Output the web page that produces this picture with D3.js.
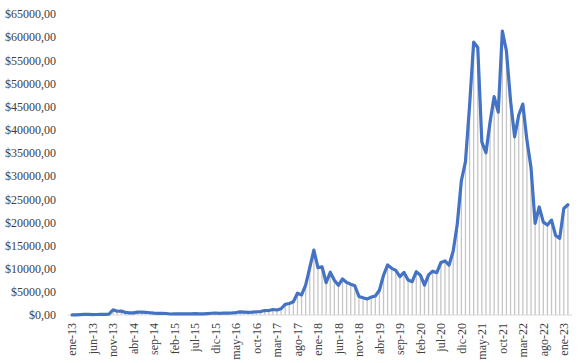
<!DOCTYPE html>
<html>
<head>
<meta charset="utf-8">
<script src="https://cdn.jsdelivr.net/npm/d3@7"></script>
<style>
  body { margin: 0; background: #fff; }
  text { font-family: "Liberation Serif", "Times New Roman", serif; fill: #404040; }
</style>
</head>
<body>
<div id="chart-container"></div>
<script>
// month names and years used for the categories
const monthNames = ["ene","feb","mar","abr","may","jun","jul","ago","sep","oct","nov","dic"];
const years = ["13","14","15","16","17","18","19","20","21","22","23"];

// monthly price values, ene-13 .. feb-23
const prices = [
  20, 33, 93, 139, 129, 97, 106, 141, 141, 204, 1130, 805,
  829, 573, 458, 448, 628, 641, 586, 478, 387, 338, 378, 320,
  218, 254, 244, 236, 230, 263, 284, 230, 236, 314, 377, 430,
  369, 437, 416, 448, 531, 673, 624, 575, 609, 698, 742, 964,
  970, 1190, 1080, 1348, 2286, 2480, 2875, 4703, 4338, 6468, 10233, 14000,
  10222, 10397, 6973, 9240, 7495, 6404, 7780, 7037, 6625, 6318, 4017, 3743,
  3457, 3854, 4105, 5351, 8574, 10817, 10085, 9630, 8294, 9199, 7569, 7193,
  9350, 8599, 6438, 8658, 9461, 9137, 11323, 11680, 10784, 13781, 19625, 28990,
  33114, 45137, 58918, 57750, 37332, 35041, 41626, 47166, 43791, 61318, 57005, 46306,
  38483, 43194, 45539, 37714, 31792, 19785, 23337, 20050, 19432, 20495, 17168, 16548,
  23000, 23800
];

const months = prices.map((_, i) => monthNames[i % 12] + "-" + years[Math.floor(i / 12)]);
const tickLabels = months.filter((_, i) => i % 5 === 0);
const yTicks = d3.range(0, 65001, 5000);

const width = 579, height = 363;
const margin = {top: 14, right: 7, bottom: 48, left: 68};

const svg = d3.select("#chart-container")
  .append("svg")
  .attr("width", width)
  .attr("height", height);

const x = d3.scaleBand()
  .domain(months)
  .range([margin.left, width - margin.right])
  .paddingInner(0)
  .paddingOuter(0.5);

const y = d3.scaleLinear()
  .domain([0, 65000])
  .range([height - margin.bottom, margin.top]);

// bars (thin gray columns)
svg.append("g")
  .selectAll("rect")
  .data(prices)
  .join("rect")
    .attr("x", (d, i) => x(months[i]) + x.bandwidth() / 2 - 0.65)
    .attr("width", 1.3)
    .attr("y", d => y(d))
    .attr("height", d => y(0) - y(d))
    .attr("fill", "#c6c6c6");

// baseline
svg.append("line")
  .attr("x1", margin.left)
  .attr("x2", width - margin.right)
  .attr("y1", y(0))
  .attr("y2", y(0))
  .attr("stroke", "#d9d9d9")
  .attr("stroke-width", 1);

// y axis labels
const yAxis = svg.append("g")
  .attr("transform", `translate(${margin.left - 12},0)`)
  .call(d3.axisLeft(y)
    .tickValues(yTicks)
    .tickSize(0)
    .tickPadding(0)
    .tickFormat(d => "$" + d + ",00"));
yAxis.select(".domain").remove();
yAxis.selectAll("text")
  .style("font-size", "12px")
  .style("font-family", "Liberation Serif, serif")
  .attr("fill", "#404040");

// x axis labels
const xAxis = svg.append("g")
  .attr("transform", `translate(0,${y(0)})`)
  .call(d3.axisBottom(x)
    .tickValues(tickLabels)
    .tickSize(0)
    .tickPadding(0));
xAxis.select(".domain").remove();
xAxis.selectAll("text")
  .style("font-size", "12px")
  .style("font-family", "Liberation Serif, serif")
  .attr("fill", "#404040")
  .attr("transform", "rotate(-90)")
  .attr("text-anchor", "end")
  .attr("x", -8)
  .attr("y", 0)
  .attr("dy", "0.35em");

// price line
const line = d3.line()
  .x((d, i) => x(months[i]) + x.bandwidth() / 2)
  .y(d => y(d));

svg.append("path")
  .datum(prices)
  .attr("fill", "none")
  .attr("stroke", "#4472C4")
  .attr("stroke-width", 3.2)
  .attr("stroke-linejoin", "round")
  .attr("stroke-linecap", "round")
  .attr("d", line);
</script>
</body>
</html>
